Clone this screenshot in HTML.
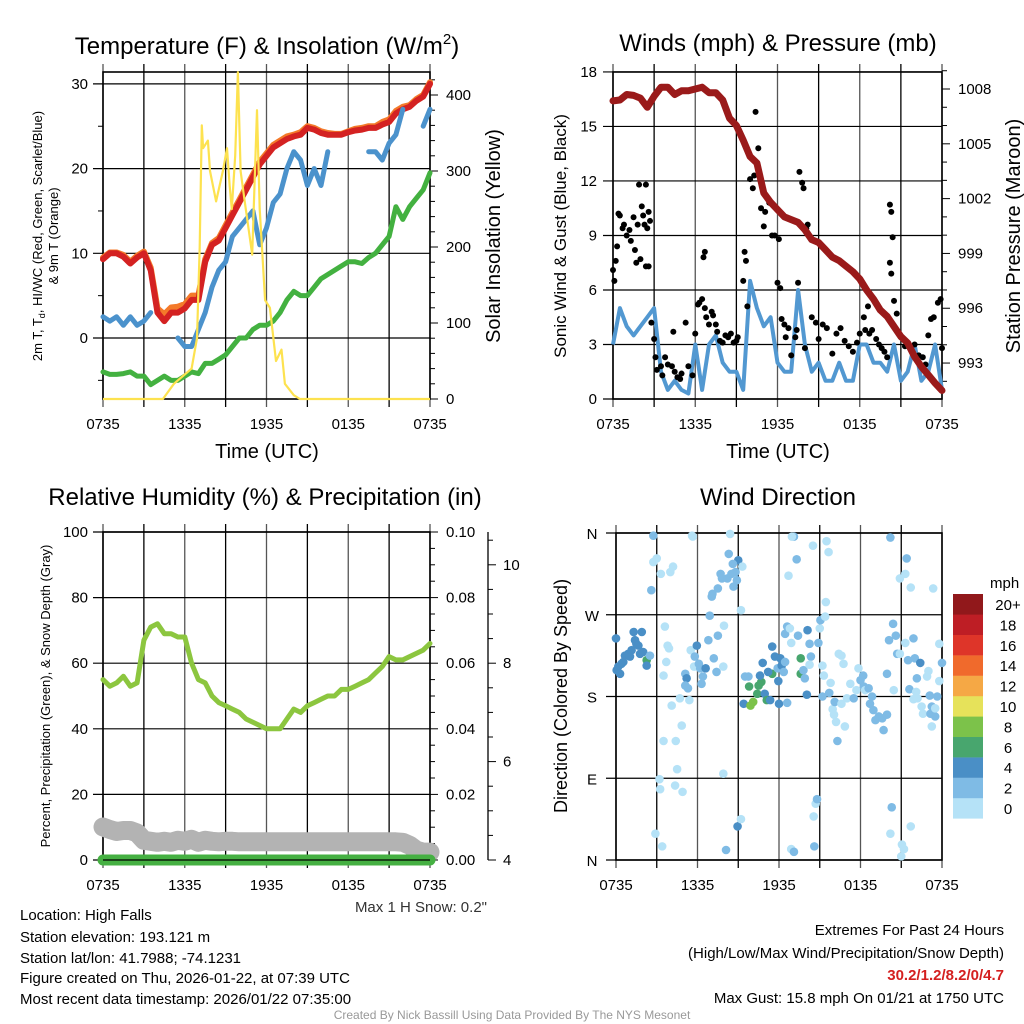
<!DOCTYPE html>
<html><head><meta charset="utf-8"><style>
html,body{margin:0;padding:0;background:#fff;}
svg{display:block;font-family:"Liberation Sans",Arial,sans-serif;}
</style></head><body>
<svg id="chart" width="1024" height="1024" viewBox="0 0 1024 1024" xmlns="http://www.w3.org/2000/svg">
<rect width="1024" height="1024" fill="#fff"/>
<g id="p1"></g>
<g id="p2"></g>
<g id="p3"></g>
<g id="p4"></g>
<g font-size="24" text-anchor="middle">
<text x="267" y="54">Temperature (F) &amp; Insolation (W/m<tspan font-size="15" dy="-10">2</tspan><tspan dy="10">)</tspan></text>
<text x="778" y="51">Winds (mph) &amp; Pressure (mb)</text>
<text x="265" y="505">Relative Humidity (%) &amp; Precipitation (in)</text>
<text x="778" y="505">Wind Direction</text>
</g>
<g font-size="20" text-anchor="middle">
<text x="267" y="458">Time (UTC)</text>
<text x="778" y="458">Time (UTC)</text>
<text transform="translate(500,236) rotate(-90)">Solar Insolation (Yellow)</text>
<text transform="translate(1020,236) rotate(-90)">Station Pressure (Maroon)</text>
<text transform="translate(566,236) rotate(-90)" font-size="17">Sonic Wind &amp; Gust (Blue, Black)</text>
<text transform="translate(567,696) rotate(-90)" font-size="18">Direction (Colored By Speed)</text>
<text transform="translate(42,236) rotate(-90)" font-size="13">2m T, T<tspan font-size="9" dy="3">d</tspan><tspan dy="-3">, HI/WC (Red, Green, Scarlet/Blue)</tspan></text>
<text transform="translate(58,236) rotate(-90)" font-size="13">&amp; 9m T (Orange)</text>
<text transform="translate(50,696) rotate(-90)" font-size="13">Percent, Precipitation (Green), &amp; Snow Depth (Gray)</text>
</g>
<g font-size="15">
<text x="20" y="920">Location: High Falls</text>
<text x="20" y="942">Station elevation: 193.121 m</text>
<text x="20" y="963">Station lat/lon: 41.7988; -74.1231</text>
<text x="20" y="983">Figure created on Thu, 2026-01-22, at 07:39 UTC</text>
<text x="20" y="1004">Most recent data timestamp: 2026/01/22 07:35:00</text>
<text x="487" y="912" text-anchor="end" fill="#333">Max 1 H Snow: 0.2"</text>
<text x="1004" y="935" text-anchor="end">Extremes For Past 24 Hours</text>
<text x="1004" y="958" text-anchor="end">(High/Low/Max Wind/Precipitation/Snow Depth)</text>
<text x="1004" y="980" text-anchor="end" fill="#d42020" font-weight="bold">30.2/1.2/8.2/0/4.7</text>
<text x="1004" y="1003" text-anchor="end">Max Gust: 15.8 mph On 01/21 at 1750 UTC</text>
<text x="512" y="1019" text-anchor="middle" font-size="12" fill="#999">Created By Nick Bassill Using Data Provided By The NYS Mesonet</text>
</g>
</svg>
<script>
const timeLabels=["0735","1335","1935","0135","0735"];
const tempRed=[9.3,10,10,9.6,8.8,9.5,10,8,3,2,3,3,3.5,4.5,4.5,9,11,11.5,13,14.5,16,17.5,19,20.5,21.5,22.5,23,23.5,23.8,24,24.8,24.6,24.2,24,24,24,24.3,24.5,24.6,24.8,24.8,25.2,25.5,26.5,27,27.3,28,28.5,30];
const temp9m=[9.5,10.1,10.1,9.8,9,9.7,10.2,8.3,3.5,2.8,3.6,3.7,4,5,5,9.3,11.2,11.8,13.3,14.8,16.3,17.8,19.3,20.8,21.8,22.8,23.3,23.8,24,24.3,25,24.8,24.4,24.2,24.1,24.1,24.4,24.7,24.8,25,25,25.5,25.8,26.8,27.3,27.5,28.2,28.7,30.2];
const tempBlue=[2.5,2,2.5,1.5,2.5,1.5,2,3,null,null,null,0,-1,-1,1,3,6,8,9,12,13,14,15,11,13,16,17,20,22,21,18,20,18,22,null,null,null,null,null,22,22,21,23,24,27,null,null,25,27];
const dewGreen=[-4,-4.3,-4.3,-4.2,-4,-4.5,-4.5,-5.5,-5,-4.5,-5,-5,-4.5,-4,-4.2,-3,-3,-2.5,-2,-1,0,0,1,1.5,1.5,2,3,4.5,5.5,5,5,6,7,7.5,8,8.5,9,9,8.8,9.5,10,11,12,15.5,14,15.5,16.5,17.5,19.5];
const solarHours=[0,4.4,5.2,6.5,6.9,7.1,7.25,7.35,7.7,7.85,8.3,8.8,9.1,9.3,9.45,9.7,9.9,10.1,10.4,10.95,11.3,11.5,11.9,12.25,12.7,13.1,13.35,14,14.45,24];
const solarVals=[0,0,20,40,80,200,360,330,340,300,260,300,330,280,250,320,430,300,260,190,380,250,130,120,50,65,20,5,0,0];
const windBlue=[3,5,4,3.5,4,4.5,5,1.5,0.5,1,0.5,0.3,3,0.5,3,3.5,2,1.5,1.5,0.5,6.5,5,4,4.5,2,1.5,1.5,6,3,1.5,2,1,1,2,1,1,3,3,2,2,1.5,3,1,1.5,3,1,1.5,3,0.5];
const pressure=[1007.35,1007.4,1007.7,1007.65,1007.5,1007,1007.6,1008.1,1008.1,1007.7,1007.9,1007.9,1008,1008.1,1007.8,1007.8,1007.4,1006.4,1006,1005.2,1004.3,1003.95,1002.3,1001.8,1001.4,1001,1000.85,1000.7,1000.3,999.75,999.6,999.2,998.8,998.6,998.3,998,997.6,997,996.5,995.9,995.55,995,994.45,994.1,993.35,992.8,992.35,991.9,991.5];
const gustHours=[0,0.1,0.2,0.3,0.4,0.5,0.7,0.8,1,1.2,1.3,1.5,1.6,1.7,1.8,1.9,2.1,2.2,2.3,2.4,2.5,2.6,2.7,2.4,2,2.6,2.8,3,3.1,3.2,3.5,3.6,3.8,4,4.3,4.5,4.7,4.9,5,4.4,5.3,5.5,5.8,6,6.2,6.3,6.5,6.7,6.8,6.6,6.7,7,7.2,7.3,7.5,7.6,7.8,8,8.2,8.4,8.6,8.8,9,9.1,9.5,9.6,9.7,9.8,10,10.2,10.3,10.4,10.6,10.8,11,11.1,11.4,11.6,11.8,12,12.2,12.3,12.1,12.5,12.6,12.8,13,13.3,13.4,13.6,13.8,13.9,14.1,14.2,13.5,14,14.5,14.8,15,15.3,15.6,16,16.3,16.6,16.9,17.2,17.5,17.8,18,18.3,18.4,18.6,18.7,18.9,19.2,19.4,19.6,19.8,20,20.2,20.3,20.4,20.2,20.3,20.5,20.7,21,21.3,21.6,22,22.3,22.6,22.8,23,23.2,23.4,23.7,23.9,24];
const gustVals=[7.1,6.5,7.6,8.4,10.2,10.1,9.4,9.6,9,9.3,8.7,10,8.2,7.5,9.6,11.8,10.6,10.1,9.6,11.8,9.4,10.3,9.8,7.3,7.7,7.3,4.2,3.3,2.3,1.6,1.8,1.3,2.3,1.9,1.8,1.5,1.2,1.1,1.4,3.7,4.2,1.8,1.3,3.6,5.2,5.3,5.5,5,4.5,7.8,8.1,4.1,4.8,4.6,4.1,3.7,3.2,3.1,3.5,3.4,3.6,3.1,3.2,3.4,6.5,8.1,7.6,5.1,12.1,11.6,12.3,15.8,13.8,10.5,9.5,10.3,10.8,9,9,6.4,6.1,4.4,8.8,4.1,3.4,3.9,2.4,3.4,3.8,12.5,11.9,11.6,9.4,9.6,6.4,2.8,4.5,4.2,3.3,4.1,3.9,2.5,3.6,3.9,3.2,2.9,2.6,3.1,3.6,4.5,3.8,5.1,3.6,3.8,3.3,3,2.8,2.6,2.3,10.7,10.3,8.9,7.5,6.9,5.4,4.7,3.4,2.9,2.9,3,2.4,2.3,1.9,3.5,4.4,4.5,5.3,5.5,2.8];
const rh=[55,53,54,56,53,54,67,71,72,69,69,68,68,60,55,54,50,48,47,46,45,43,42,41,40,40,40,43,46,45,47,48,49,50,50,52,52,53,54,55,57,59,62,61,61,62,63,64,66];
const snowDepth=[4.67,4.62,4.58,4.6,4.6,4.55,4.4,4.38,4.36,4.38,4.36,4.4,4.38,4.42,4.36,4.4,4.38,4.37,4.38,4.38,4.37,4.37,4.37,4.37,4.37,4.37,4.37,4.37,4.37,4.37,4.37,4.37,4.37,4.37,4.37,4.37,4.37,4.37,4.37,4.37,4.37,4.37,4.37,4.37,4.36,4.3,4.2,4.16,4.16];
const precip=[0,0,0,0,0,0,0,0,0,0,0,0,0,0,0,0,0,0,0,0,0,0,0,0,0,0,0,0,0,0,0,0,0,0,0,0,0,0,0,0,0,0,0,0,0,0,0,0,0];
const dirHours=[0,0.05,0.17,0.3,0.4,0.54,0.66,0.9,1.03,1.15,1.3,1.4,1.5,1.65,1.77,1.9,2,2.26,2.26,2.5,2.75,2.6,2.75,3,3.3,4,4.2,3.6,3.8,3.9,3.7,3.5,4.1,4.84,4.4,3.5,4.5,3.2,3.25,4.35,4.9,2.9,3.4,5.1,5.2,5.1,5.3,4.7,5.4,5.6,5.65,5.5,5.8,5.95,5.75,6.1,6.2,6.3,6.4,6.6,6.8,6.9,7.05,7.1,7.4,7.2,7.5,7.5,7.7,7.8,7.9,7.95,7.9,8.1,8.2,8.3,8.5,8.65,8.8,8.9,9,8.6,9.3,9.2,8.95,9.2,8.4,9.5,9.75,9.4,9.8,9.9,10.1,10.4,10.5,10.7,10.6,10.8,10.95,11.1,11.35,11.5,11.2,11.5,11.7,11.9,11.95,12,12.1,12.2,12.35,12.45,12.6,12.45,12.6,12.8,12.9,13.4,13.6,13.6,13.8,13.9,14.05,14.1,14.25,14.35,14.25,14.9,15,15.05,15.4,15.45,15.2,15.2,15.3,13.1,12.95,13.3,12.7,14.5,15.5,15.65,12.9,13.1,14.55,14.7,14.8,14.6,15.8,15.7,15.95,16.05,16.2,16.3,16.1,16.4,16.6,16.75,16.6,16.85,17,17.25,17.5,17.7,17.85,18,18.2,18.25,18.35,18.6,18.7,18.85,18.95,19.1,19.35,19.6,19.7,19.95,19.95,20.1,20.4,20.6,20.7,20.9,20.45,21.3,21.5,21.9,22,22.4,22.15,21.6,22.1,21.9,22.2,22.5,22.6,22.9,23,23.25,23.15,23.5,23.5,23.25,23.65,23.8,23.8,24,23.1,20.2,21.4,21.3,20.9,21.7,23.35,20.3,20.2,21.7,21.05,21.2,21];
const dirDeg=[244,209,213,205,216,218,225,227,224,231,251,242,238,236,227,251,229,220,214,225,357,297,328,332,315,317,323,257,236,233,218,203,170,148,131,131,100,89,78,82,75,29,15,205,200,192,189,178,176,357,356,231,224,236,213,216,211,194,202,211,242,269,290,293,207,222,299,247,315,310,213,258,95,11,310,337,315,301,317,308,330,326,323,275,37,45,359,202,202,172,191,170,174,183,192,196,203,217,183,176,176,205,207,235,224,211,197,172,222,214,207,218,173,249,257,255,239,247,222,205,209,200,182,253,238,224,215,239,255,264,268,284,180,214,203,356,356,331,313,346,351,339,12,9,48,62,67,15,195,184,166,160,152,131,174,227,225,216,172,147,178,194,178,187,211,198,203,191,187,189,172,180,165,154,158,156,143,160,205,242,260,247,227,227,187,239,220,244,222,217,200,188,185,177,178,169,161,202,208,169,161,158,167,147,180,197,238,217,181,355,332,315,310,300,299,58,29,37,17,12,4];
const dirSpeed=[5,5,5,5,5,5,5,5,5,5,5,5,5,5,5,5,5,7,5,3,3,3,1,1,1,1,1,1,1,1,1,1,1,1,1,1,1,1,1,1,1,1,1,3,5,3,3,1,1,1,1,1,3,5,1,3,3,3,3,5,3,3,3,3,3,3,3,3,3,3,1,1,1,3,3,3,3,3,3,3,5,3,1,1,5,1,1,3,3,5,7,9,9,7,7,7,5,5,5,7,5,7,5,5,5,3,5,5,5,5,3,3,3,3,3,1,1,3,7,7,3,3,5,5,3,3,1,3,1,3,1,1,3,1,1,3,1,3,1,1,1,1,1,3,1,1,3,3,1,3,1,1,1,3,3,1,1,1,1,1,1,1,3,1,1,3,3,3,1,3,3,3,3,3,3,3,3,3,3,3,3,3,3,1,1,1,3,3,3,5,3,3,1,1,1,1,1,1,1,3,3,3,1,1,3,1,1,3,3,3,3,1,1,1,1,3,1,1,1,1,1,1,1,5,1,1];
const speedBins=["0","2","4","6","8","10","12","14","16","18","20+"];
const speedColors=["#b5e2f7","#7fbbe5","#4a8fc6","#48a66e","#7cc24a","#e6e25a","#f5a845","#f06a2c","#de3529","#be1e25","#91181b"];

const NS="http://www.w3.org/2000/svg";
function el(tag,attrs,parent){const e=document.createElementNS(NS,tag);for(const k in attrs)e.setAttribute(k,attrs[k]);parent.appendChild(e);return e;}
function txt(s,attrs,parent){const t=el('text',attrs,parent);t.textContent=s;return t;}
function xs(x0,x1){return h=>x0+h/24*(x1-x0);}
function linePath(vals,fx,fy,hours){let d='',pen=false;vals.forEach((v,i)=>{if(v===null){pen=false;return;}const h=hours?hours[i]:i*0.5;d+=(pen?'L':'M')+fx(h).toFixed(1)+','+fy(v).toFixed(1);pen=true;});return d;}
function frame(g,x0,x1,y0,y1,hy,name){
  for(let i=0;i<=8;i++){const x=x0+i*(x1-x0)/8;const ln=el('line',{x1:x,x2:x,y1:y0-8,y2:y1+8,stroke:(i%2==0)?'#555':'#000','stroke-width':1.3},g);
    }
  hy.forEach(y=>{const ln=el('line',{x1:x0-10,x2:x1,y1:y,y2:y,stroke:'#000','stroke-width':1.2},g);
    });
  const r=el('rect',{x:x0,y:y0,width:x1-x0,height:y1-y0,fill:'none',stroke:'#000','stroke-width':1.6},g);
  
  timeLabels.forEach((s,i)=>{const t=txt(s,{x:x0+i*(x1-x0)/4,y:y1+30,'font-size':15,'text-anchor':'middle'},g);
    });
}
// Panel 1
(function(){const g=document.getElementById('p1');const x0=103,x1=430,y0=72,y1=399;const fx=xs(x0,x1);
 const fy=T=>338-T*8.47, fs=S=>399-S*0.76;
 const tv=[0,10,20,30];frame(g,x0,x1,y0,y1,tv.map(fy),'temperature');
 tv.forEach(v=>{const t=txt(String(v),{x:88,y:fy(v)+5,'font-size':15,'text-anchor':'end'},g);});
 [-5,5,15,25].forEach(v=>el('line',{x1:x0-5,x2:x0,y1:fy(v),y2:fy(v),stroke:'#000'},g));
 for(let s=0;s<=420;s+=20){const maj=s%100==0;el('line',{x1:x1,x2:x1+(maj?8:5),y1:fs(s),y2:fs(s),stroke:'#000'},g);
  if(maj){const t=txt(String(s),{x:x1+16,y:fs(s)+5,'font-size':15},g);}}
 let p=el('path',{d:linePath(temp9m,fx,fy),fill:'none',stroke:'#f47a2a','stroke-width':6,'stroke-linejoin':'round','stroke-linecap':'round'},g);
 
 p=el('path',{d:linePath(tempRed,fx,fy),fill:'none',stroke:'#d42222','stroke-width':6,'stroke-linejoin':'round','stroke-linecap':'round'},g);
 
 p=el('path',{d:linePath(tempBlue,fx,fy),fill:'none',stroke:'#4b92cc','stroke-width':5,'stroke-linejoin':'round','stroke-linecap':'round'},g);
 
 p=el('path',{d:linePath(dewGreen,fx,fy),fill:'none',stroke:'#43b140','stroke-width':5,'stroke-linejoin':'round','stroke-linecap':'round'},g);
 
 p=el('path',{d:linePath(solarVals,fx,fs,solarHours),fill:'none',stroke:'#fde24f','stroke-width':2.2,'stroke-linejoin':'round'},g);
 
})();
// Panel 2
(function(){const g=document.getElementById('p2');const x0=613,x1=942,y0=72,y1=399;const fx=xs(x0,x1);
 const fy=w=>399-w*18.17, fp=pr=>89+(1008-pr)*18.27;
 const wv=[0,3,6,9,12,15,18];frame(g,x0,x1,y0,y1,wv.map(fy),'winds');
 wv.forEach(v=>{const t=txt(String(v),{x:597,y:fy(v)+5,'font-size':15,'text-anchor':'end'},g);});
 for(let pr=992;pr<=1009;pr++){const maj=(pr-993)%3==0;el('line',{x1:x1,x2:x1+(maj?8:5),y1:fp(pr),y2:fp(pr),stroke:'#000'},g);
  if(maj){const t=txt(String(pr),{x:x1+16,y:fp(pr)+5,'font-size':15},g);}}
 let p=el('path',{d:linePath(windBlue,fx,fy),fill:'none',stroke:'#5298d1','stroke-width':4,'stroke-linejoin':'round'},g);
 
 gustHours.forEach((h,i)=>{const c=el('circle',{cx:fx(h),cy:fy(gustVals[i]),r:3,fill:'#000'},g);
  });
 p=el('path',{d:linePath(pressure,fx,fp),fill:'none',stroke:'#9a1a1a','stroke-width':7,'stroke-linejoin':'round','stroke-linecap':'round'},g);
 
})();
// Panel 3
(function(){const g=document.getElementById('p3');const x0=103,x1=430,y0=532,y1=860;const fx=xs(x0,x1);
 const fy=v=>860-v*3.28, fsn=s=>860-(s-4)*49.2, fpr=v=>860-v*3280;
 const rv=[0,20,40,60,80,100];frame(g,x0,x1,y0,y1,rv.map(fy),'humidity');
 rv.forEach(v=>{const t=txt(String(v),{x:88,y:fy(v)+5,'font-size':15,'text-anchor':'end'},g);});
 for(let i=0;i<=20;i++){const v=i*0.005;const maj=i%4==0;el('line',{x1:x1,x2:x1+(maj?8:5),y1:fpr(v),y2:fpr(v),stroke:'#000'},g);
  if(i%4==0){const t=txt((i*0.005).toFixed(2),{x:x1+16,y:fpr(v)+5,'font-size':15},g);}}
 el('line',{x1:488,x2:488,y1:532,y2:860,stroke:'#000','stroke-width':1.3},g);
 for(let s=4;s<=10.6;s+=0.5){const maj=Math.abs(s%2)<0.01;el('line',{x1:488,x2:488+(maj?8:5),y1:fsn(s),y2:fsn(s),stroke:'#000'},g);
  if(maj){const t=txt(String(s),{x:503,y:fsn(s)+5,'font-size':15},g);}}
 let p=el('path',{d:linePath(snowDepth,fx,fsn),fill:'none',stroke:'#b3b3b3','stroke-width':19,'stroke-linejoin':'round','stroke-linecap':'round'},g);
 
 p=el('path',{d:linePath(precip,fx,fpr),fill:'none',stroke:'#45b042','stroke-width':11,'stroke-linecap':'round'},g);
 
 el('line',{x1:x0,x2:x1,y1:860,y2:860,stroke:'#000','stroke-width':1.2},g);
 p=el('path',{d:linePath(rh,fx,fy),fill:'none',stroke:'#8cc63f','stroke-width':5,'stroke-linejoin':'round','stroke-linecap':'round'},g);
 
})();
// Panel 4
(function(){const g=document.getElementById('p4');const x0=616,x1=942,y0=533,y1=860;const fx=xs(x0,x1);
 const fy=d=>860-d/360*327;
 const dv=[0,90,180,270,360],dl=["N","E","S","W","N"];frame(g,x0,x1,y0,y1,dv.map(fy),'direction');
 dv.forEach((v,i)=>{const t=txt(dl[i],{x:592,y:fy(v)+6,'font-size':15,'text-anchor':'middle'},g);});
 dirHours.forEach((h,i)=>{const b=Math.min(10,Math.floor(dirSpeed[i]/2));const c=el('circle',{cx:fx(h),cy:fy(dirDeg[i]),r:4.3,fill:speedColors[b]},g);
  });
 const t0=txt('mph',{x:990,y:588,'font-size':15},g);
 speedBins.forEach((s,i)=>{const y=798-i*20.4;const r=el('rect',{x:953,y:y,width:30,height:20.6,fill:speedColors[i]},g);
  
  const t=txt(s,{x:1008,y:y+16,'font-size':15,'text-anchor':'middle'},g);});
})();
</script>
</body></html>
